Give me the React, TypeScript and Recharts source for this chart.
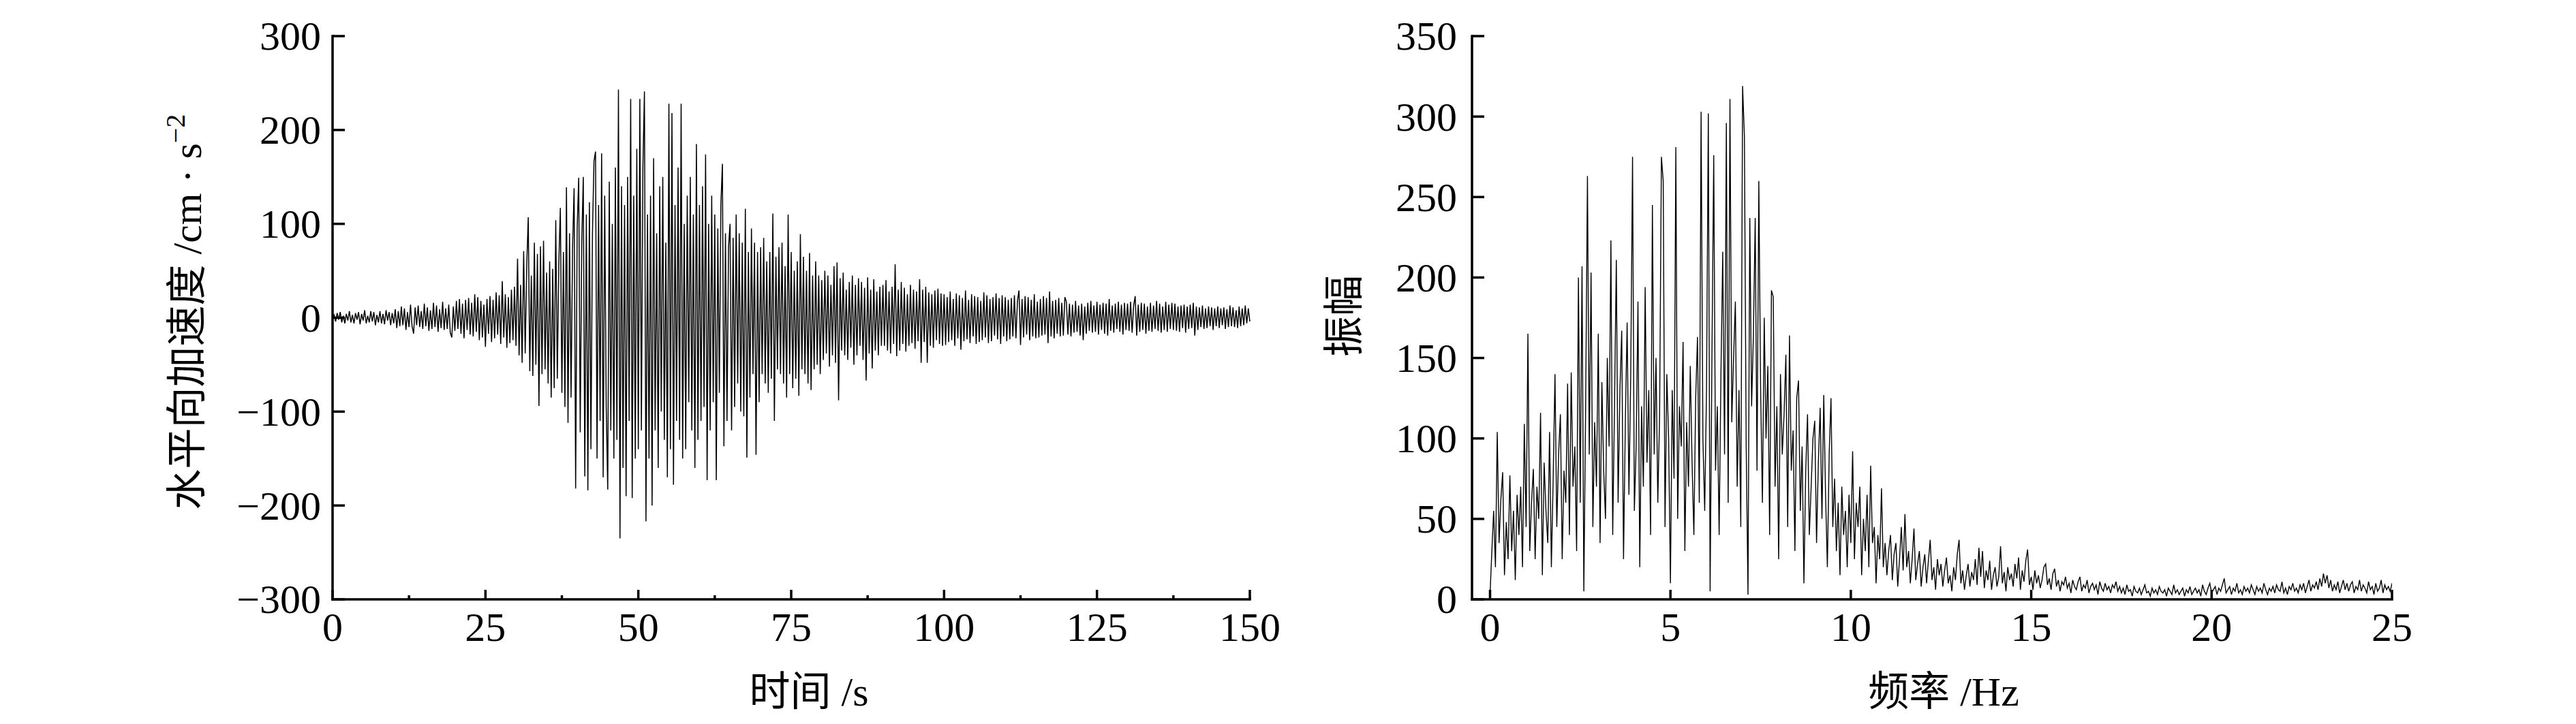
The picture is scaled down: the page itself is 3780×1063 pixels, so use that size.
import React from 'react';
import { LineChart, Line, XAxis, YAxis, Label } from 'recharts';

// ---------- Time history (horizontal acceleration, cm/s^2), sampled every 0.25 s ----------
const TIME_STEP = 0.25;
const acc0to10 = [0, 3, -4, 5, -2, 6, -5, 2, -6, 4, -3, 7, -5, 3, -6, 5, -2, 6, -7, 4, -3, 8, -6, 2, -5, 7, -4, 6, -8, 3, -5, 7, -6, 4, -7, 8, -3, 6, -8, 5];
const acc10to20 = [-6, 9, -11, 7, -9, 12, -8, 10, -13, 6, -10, 14, -9, -17, 11, -8, 13, -10, 7, -12, 15, -9, 11, -14, 8, -12, 16, -10, 13, -15, 9, -11, 17, -13, 10, -12, 14, -16, -21, 12];
const acc20to30 = [-14, 18, -12, 20, -17, 15, -22, 19, -13, 21, -18, 16, -20, 25, -15, 22, -24, 18, -21, 14, -31, 20, -17, 23, -26, 19, -22, 27, -18, 24, -28, 39, -21, 25, -32, 22, -27, 30, -24, 33];
const acc30to40 = [-30, 63, -40, 35, -48, 71, -38, 55, 107, -57, 45, -62, 80, -50, 68, -94, 76, -60, 82, -55, 48, -70, 60, -85, 52, -75, 104, -65, 58, 117, -80, 70, -95, 139, -112, 90, -85, 75, 138, -182];
const acc40to50 = [95, 149, -122, 80, 150, -169, 110, -184, 123, -140, 90, 167, 177, -150, 120, -110, 175, -170, 130, -95, -183, 145, -120, 100, -150, 160, -130, 243, -235, 140, -160, 120, -190, 150, -110, 233, -192, 130, -150, 180];
const acc50to60 = [-140, 233, -120, 160, 241, -217, 110, -150, 130, -200, 170, -120, 90, -160, 140, -100, 150, -130, 80, -170, 228, -140, 218, -178, 120, -110, 160, -130, 228, -150, 100, -140, 130, -90, 150, -120, 110, -160, 185, -130];
const acc60to70 = [120, -110, 140, -95, 174, -173, 100, -120, 130, -90, 110, -173, 95, -80, 120, 164, -137, 90, -110, 75, 100, -120, 85, -95, 110, -70, 90, -100, 80, -105, 116, -149, 70, -85, 95, -60, 80, -146, 70, -90];
const acc70to80 = [75, -60, 85, -70, 60, -80, 70, -65, 111, -110, 65, -55, 75, -60, 80, -70, 55, -85, 110, -60, 70, -75, 50, -65, 60, -83, 89, -55, 65, -60, 50, -70, 69, -77, 45, -55, 60, -50, 45, -60];
const acc80to90 = [40, -45, 50, -38, 45, -52, 35, -40, 55, -48, 59, -88, 42, -35, 48, -40, 30, -45, 38, -32, 45, -50, 35, -40, 42, -30, 38, -45, 32, -67, 43, -38, 30, -54, 41, -35, 28, -40, 33, -30];
const acc90to100 = [35, -30, 40, -35, 28, -38, 33, -28, 57, -41, 30, -35, 38, -28, 32, -36, 25, -30, 35, -27, 30, -33, 28, -25, 41, -48, 30, -26, 33, -48, 27, -30, 25, -32, 29, -24, 31, -28, 26, -30];
const acc100to110 = [25, -29, 22, -26, 28, -24, 20, -30, 26, -22, 24, -34, 21, -25, 29, -23, 19, -27, 25, -20, 23, -28, 22, -26, 18, -24, 27, -21, 24, -27, 20, -25, 22, -19, 26, -23, 21, -28, 24, -20];
const acc110to120 = [22, -25, 19, -23, 21, -20, 24, -22, 18, 29, -29, 20, -21, 23, -18, 22, -24, 19, -20, 25, -22, 17, -21, 20, -19, 23, -18, 21, -27, 28, -20, 18, -22, 19, -17, 21, -20, 16, -19, 22];
const acc120to130 = [17, -18, 15, -20, 14, -16, 18, -15, 13, -19, 15, -24, 12, -17, 16, -14, 18, -16, 13, -15, 17, -18, 14, -13, 16, -17, 15, -19, 20, -14, 13, -16, 15, -12, 17, -15, 14, -18, 16, -13];
const acc130to140 = [15, -14, 17, -16, 13, 23, -19, 14, -15, 16, -13, 15, -17, 12, -14, 16, -15, 13, -12, 18, -14, 15, -16, 12, -13, 17, -15, 14, -12, 16, -13, 15, -14, 12, -15, 13, -11, 14, -16, 12];
const acc140to150 = [-12, 14, -11, 16, -19, 12, -13, 11, -10, 13, -12, 10, -11, 12, -9, 11, -13, 10, -9, 12, -11, 10, -8, 11, -12, 9, -10, 13, -9, 11, -10, 8, -11, 12, -9, 10, -8, 13, -6, 10, -4];

const timeMajorTicks = [0, 25, 50, 75, 100, 125, 150];
const timeMinorTicks = [12.5, 37.5, 62.5, 87.5, 112.5, 137.5];
const accTicks = [-300, -200, -100, 0, 100, 200, 300];

// ---------- Fourier amplitude spectrum, sampled every 0.05 Hz ----------
const FREQ_STEP = 0.05;
const amp0to2p5 = [3, 30, 55, 20, 104, 35, 62, 79, 15, 48, 25, 77, 30, 55, 12, 65, 40, 70, 20, 109, 45, 165, 30, 60, 81, 25, 70, 50, 116, 15, 85, 55, 35, 104, 20, 75, 140, 45, 90, 115, 25, 80, 60, 134, 40, 141, 70, 95, 30, 200];
const amp2p5to5 = [60, 207, 5, 120, 263, 90, 203, 45, 110, 70, 165, 35, 135, 80, 50, 150, 95, 223, 40, 120, 211, 60, 130, 167, 25, 110, 172, 65, 140, 275, 55, 95, 185, 20, 120, 70, 194, 85, 130, 40, 245, 90, 150, 60, 115, 275, 260, 45, 140, 100];
const amp5to7p5 = [10, 130, 75, 281, 50, 120, 95, 160, 30, 110, 70, 145, 85, 40, 125, 163, 60, 303, 100, 55, 130, 302, 5, 150, 276, 80, 120, 40, 140, 216, 90, 296, 60, 311, 110, 150, 185, 70, 130, 45, 319, 288, 95, 3, 237, 120, 165, 237, 80, 260];
const amp7p5to10 = [130, 60, 175, 100, 145, 40, 192, 188, 70, 120, 25, 140, 90, 115, 152, 45, 164, 80, 105, 30, 125, 136, 55, 95, 10, 80, 115, 40, 70, 100, 111, 35, 85, 119, 50, 127, 65, 20, 90, 125, 45, 75, 30, 60, 15, 70, 40, 55, 20, 65];
const amp10to12p5 = [35, 92, 25, 60, 45, 70, 15, 50, 30, 65, 20, 83, 35, 45, 10, 40, 25, 69, 20, 35, 15, 30, 40, 12, 28, 35, 8, 25, 45, 18, 53, 20, 30, 10, 25, 44, 12, 22, 30, 8, 20, 28, 10, 24, 37, 12, 20, 6, 25, 15];
const amp12p5to15 = [22, 8, 18, 26, 10, 15, 5, 20, 12, 28, 37, 10, 18, 6, 15, 22, 8, 17, 12, 25, 9, 32, 14, 30, 7, 18, 12, 24, 6, 15, 20, 8, 14, 33, 10, 17, 5, 20, 12, 16, 8, 22, 13, 26, 6, 18, 11, 24, 31, 9];
const amp15to17p5 = [14, 6, 18, 10, 15, 7, 12, 20, 22, 9, 13, 6, 16, 19, 8, 12, 5, 11, 9, 14, 7, 10, 4, 12, 8, 6, 11, 14, 5, 9, 7, 12, 4, 8, 10, 6, 9, 3, 11, 7, 5, 10, 6, 8, 4, 9, 7, 11, 5, 8];
const amp17p5to20 = [4, 7, 3, 9, 5, 6, 2, 8, 5, 4, 7, 3, 6, 9, 4, 5, 2, 7, 4, 6, 3, 8, 5, 4, 6, 2, 7, 5, 3, 9, 4, 6, 3, 5, 7, 2, 6, 4, 8, 3, 5, 7, 4, 6, 2, 9, 5, 3, 7, 10];
const amp20to22p5 = [4, 6, 8, 3, 7, 5, 9, 13, 4, 6, 8, 3, 7, 5, 10, 4, 6, 3, 8, 5, 7, 4, 9, 6, 3, 8, 5, 7, 4, 10, 6, 3, 7, 5, 8, 4, 9, 6, 5, 11, 4, 7, 3, 8, 6, 10, 5, 7, 4, 9];
const amp22p5to25 = [6, 10, 4, 8, 12, 5, 9, 7, 11, 6, 13, 8, 16, 10, 15, 7, 12, 5, 9, 6, 11, 4, 8, 12, 6, 10, 5, 9, 11, 4, 8, 6, 12, 5, 9, 7, 4, 11, 6, 8, 3, 10, 5, 7, 12, 4, 9, 6, 8, 5, 10];

const freqMajorTicks = [0, 5, 10, 15, 20, 25];
const ampTicks = [0, 50, 100, 150, 200, 250, 300, 350];

// ---------- build tables ----------
const accel = [
  ...acc0to10, ...acc10to20, ...acc20to30, ...acc30to40, ...acc40to50,
  ...acc50to60, ...acc60to70, ...acc70to80, ...acc80to90, ...acc90to100,
  ...acc100to110, ...acc110to120, ...acc120to130, ...acc130to140, ...acc140to150,
];
const timeData = accel.map((v, i) => ({ t: i * TIME_STEP, v }));

const amplitude = [
  ...amp0to2p5, ...amp2p5to5, ...amp5to7p5, ...amp7p5to10, ...amp10to12p5,
  ...amp12p5to15, ...amp15to17p5, ...amp17p5to20, ...amp20to22p5, ...amp22p5to25,
];
const freqData = amplitude.map((v, i) => ({ f: i * FREQ_STEP, v }));

const SERIF = "'Liberation Serif', 'Times New Roman', serif";
const CJK = "'Liberation Serif', 'Noto Sans CJK SC', serif";
const TICK_FS = 60;
const AXIS_W = 3.5;

const fmt = (v: number) => (v < 0 ? '\u2212' + Math.abs(v) : String(v));

const makeXTick = (majors: number[]) => (props: any) => {
  const { x, y, payload } = props;
  const val = payload.value;
  const isMajor = majors.some((m) => Math.abs(m - val) < 1e-9);
  const len = isMajor ? 14 : 6;
  return (
    <g>
      <line x1={x} x2={x} y1={y} y2={y - len} stroke="#000" strokeWidth={AXIS_W} />
      {isMajor && (
        <text x={x} y={y + 18} dy="0.71em" textAnchor="middle" fontFamily={SERIF} fontSize={TICK_FS} fill="#000">
          {fmt(val)}
        </text>
      )}
    </g>
  );
};

const makeYTick = (gap: number) => (props: any) => {
  const { x, y, payload } = props;
  return (
    <g>
      <line x1={x} x2={x + 18} y1={y} y2={y} stroke="#000" strokeWidth={AXIS_W} />
      <text x={x - gap} y={y} dy="0.34em" textAnchor="end" fontFamily={SERIF} fontSize={TICK_FS} fill="#000">
        {fmt(payload.value)}
      </text>
    </g>
  );
};

const axisLineStyle = { stroke: '#000', strokeWidth: AXIS_W, strokeLinecap: 'square' as const };

function TimeChart() {
  return (
    <LineChart width={1900} height={1063} data={timeData} margin={{ top: 53, right: 66, bottom: 0, left: 0 }}>
      <XAxis
        dataKey="t"
        type="number"
        domain={[0, 150]}
        ticks={[...timeMajorTicks, ...timeMinorTicks].sort((a, b) => a - b)}
        interval={0}
        height={183}
        tickSize={0}
        tickMargin={0}
        tickLine={false}
        axisLine={axisLineStyle}
        tick={makeXTick(timeMajorTicks)}
      >
        <Label
          content={() => (
            <text x={1187} y={1036} textAnchor="middle" fontFamily={CJK} fontSize={60} fill="#000">
              时间 /s
            </text>
          )}
        />
      </XAxis>
      <YAxis
        type="number"
        domain={[-300, 300]}
        ticks={accTicks}
        interval={0}
        width={488}
        tickSize={0}
        tickMargin={0}
        tickLine={false}
        axisLine={axisLineStyle}
        tick={makeYTick(17)}
      >
        <Label
          content={() => (
            <text
              x={295}
              y={458}
              transform="rotate(-90, 295, 458)"
              textAnchor="middle"
              fontFamily={CJK}
              fontSize={60}
              fill="#000"
            >
              水平向加速度 /cm · s
              <tspan fontSize={40} dy={-24}>{'\u2212'}2</tspan>
            </text>
          )}
        />
      </YAxis>
      <Line
        dataKey="v"
        type="linear"
        stroke="#000"
        strokeWidth={1.5}
        dot={false}
        isAnimationActive={false}
      />
    </LineChart>
  );
}

function SpectrumChart() {
  return (
    <LineChart width={1880} height={1063} data={freqData} margin={{ top: 53, right: 270, bottom: 0, left: 0 }}>
      <XAxis
        dataKey="f"
        type="number"
        domain={[-0.5, 25]}
        ticks={freqMajorTicks}
        interval={0}
        height={183}
        tickSize={0}
        tickMargin={0}
        tickLine={false}
        axisLine={axisLineStyle}
        tick={makeXTick(freqMajorTicks)}
        allowDataOverflow
      >
        <Label
          content={() => (
            <text x={2852 - 1900} y={1036} textAnchor="middle" fontFamily={CJK} fontSize={60} fill="#000">
              频率 /Hz
            </text>
          )}
        />
      </XAxis>
      <YAxis
        type="number"
        domain={[0, 350]}
        ticks={ampTicks}
        interval={0}
        width={260}
        tickSize={0}
        tickMargin={0}
        tickLine={false}
        axisLine={axisLineStyle}
        tick={makeYTick(22)}
      >
        <Label
          content={() => (
            <text
              x={93}
              y={464}
              transform="rotate(-90, 93, 464)"
              textAnchor="middle"
              fontFamily={CJK}
              fontSize={60}
              fill="#000"
            >
              振幅
            </text>
          )}
        />
      </YAxis>
      <Line
        dataKey="v"
        type="linear"
        stroke="#000"
        strokeWidth={1.4}
        dot={false}
        isAnimationActive={false}
      />
    </LineChart>
  );
}

export default function App() {
  return (
    <div style={{ position: 'absolute', left: 0, top: 0, width: 3780, height: 1063, background: '#fff', overflow: 'hidden' }}>
      <div style={{ position: 'absolute', left: 0, top: 0 }}>
        <TimeChart />
      </div>
      <div style={{ position: 'absolute', left: 1900, top: 0 }}>
        <SpectrumChart />
      </div>
    </div>
  );
}
